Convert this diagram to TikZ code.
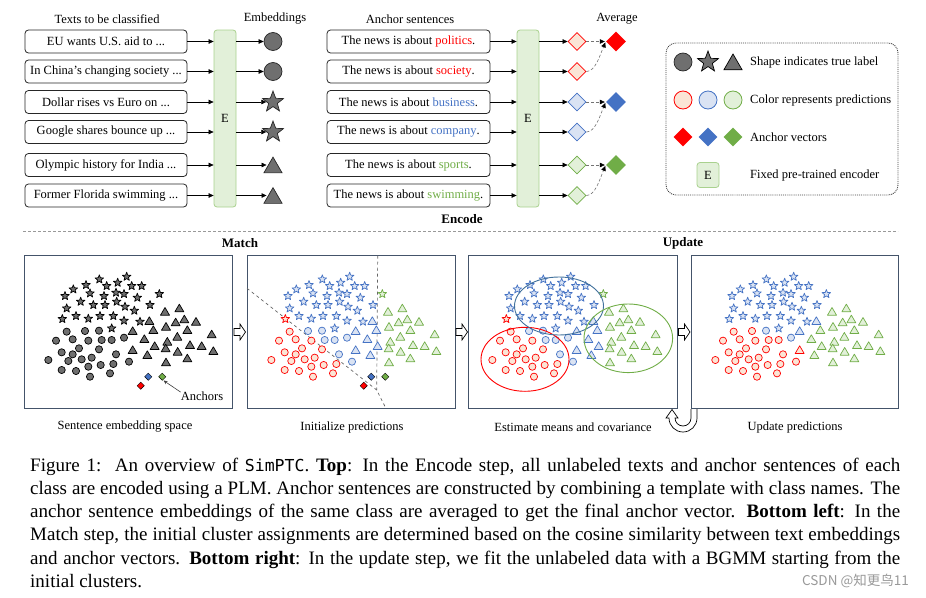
\documentclass[tikz,border=0pt]{standalone}
\usepackage{fontspec}
\setmainfont{Liberation Serif}
\newfontfamily\capmono{DejaVu Sans Mono}
\newfontfamily\cjkfont{Noto Sans CJK SC}
\usetikzlibrary{arrows.meta,shapes.geometric,calc}
\definecolor{cr}{HTML}{FF0000}
\definecolor{cb}{HTML}{4472C4}
\definecolor{cg}{HTML}{70AD47}
\definecolor{lr}{HTML}{FBE5D6}
\definecolor{lb}{HTML}{DAE3F3}
\definecolor{lg}{HTML}{E2F0D9}
\definecolor{ebord}{HTML}{A9D18E}
\definecolor{mgray}{HTML}{6F6F6F}
\definecolor{pframe}{HTML}{44546A}
\definecolor{eblue}{HTML}{41719C}
\newcommand\smallfs{\fontsize{12.5}{14}\selectfont}
\newcommand\capfs{\fontsize{19}{23}\selectfont}
\newcommand\mkStar[3]{\begin{scope}[shift={(#1,#2)}]\draw[#3] (-90:4.5)--(-54:1.9)--(-18:4.5)--(18:1.9)--(54:4.5)--(90:1.9)--(126:4.5)--(162:1.9)--(198:4.5)--(234:1.9)--cycle;\end{scope}}
\newcommand\mkTri[3]{\begin{scope}[shift={(#1,#2)}]\draw[#3] (0,-4.2)--(4.5,3.5)--(-4.5,3.5)--cycle;\end{scope}}
\newcommand\mkCirc[3]{\begin{scope}[shift={(#1,#2)}]\draw[#3] (0,0) circle (3.6);\end{scope}}
\newcommand\mkDia[3]{\begin{scope}[shift={(#1,#2)}]\draw[#3] (0,-3.6)--(3.6,0)--(0,3.6)--(-3.6,0)--cycle;\end{scope}}
\newcommand\blockarr[2]{\draw[line width=0.7pt, fill=white] (#1-5.5,#2-3.5) -- (#1+0.5,#2-3.5) -- (#1+0.5,#2-8) -- (#1+6,#2) -- (#1+0.5,#2+8) -- (#1+0.5,#2+3.5) -- (#1-5.5,#2+3.5) -- cycle;}
\begin{document}
\begin{tikzpicture}[x=1pt,y=-1pt,
  every node/.style={inner sep=0pt},
  title/.style={font=\smallfs},
  bold/.style={font=\fontsize{13}{14}\selectfont\bfseries},
  tbox/.style={draw=black!85, line width=0.8pt, rounded corners=3.5pt, minimum width=162pt, minimum height=23pt, font=\smallfs},
  encbox/.style={draw=ebord, fill=lg, rounded corners=3pt, line width=0.8pt, font=\smallfs},
  arr/.style={-{Triangle[length=5pt,width=4.5pt]}, line width=0.6pt},
  darr/.style={densely dashed, draw=black!55, line width=0.6pt, -{Triangle[length=5pt,width=4.5pt,color=black]}, shorten >=1pt},
  mcirc/.style={circle, draw=black!85, fill=mgray, minimum size=18pt, line width=0.7pt},
  mstar/.style={star, star points=5, star point ratio=2.4, draw=black!85, fill=mgray, minimum size=22pt, line width=0.7pt},
  mtri/.style={regular polygon, regular polygon sides=3, draw=black!85, fill=mgray, minimum size=21pt, line width=0.7pt},
  dia/.style={diamond, minimum width=18pt, minimum height=18pt, line width=0.8pt},
  avgdia/.style={diamond, minimum width=20pt, minimum height=20pt},
  legtxt/.style={font=\smallfs, anchor=west},
  capline/.style={anchor=base west, font=\capfs},
  panel/.style={draw=pframe, line width=0.9pt}
]
\useasboundingbox (0,0) rectangle (926,597);
% ---------- titles
\node[title] (tA) at (107,19) {Texts to be classified};
\node[title] (tB) at (275,19) {Embeddings};
\node[title] (tC) at (410,19) {Anchor sentences};
\node[title] (tD) at (617,19) {Average};
% ---------- left column
\node[tbox] (t1) at (106,41.5) {EU wants U.S. aid to ...};
\node[tbox] (t2) at (106,71.5) {In China's changing society ...};
\node[tbox] (t3) at (106,102) {Dollar rises vs Euro on ...};
\node[tbox] (t4) at (106,132) {Google shares bounce up ...};
\node[tbox] (t5) at (106,165) {Olympic history for India ...};
\node[tbox] (t6) at (106,195.5) {Former Florida swimming ...};
\node[encbox, minimum width=22pt, minimum height=177pt] (E1) at (225,118.5) {E};
\node[mcirc] (m1) at (273,41.5) {};
\node[mcirc] (m2) at (273,71.5) {};
\node[mstar] (m3) at (273,102) {};
\node[mstar] (m4) at (273,132) {};
\node[mtri] (m5) at (273,167.6) {};
\node[mtri] (m6) at (273,198.1) {};
\foreach \i in {1,...,6} {
  \draw[arr] (t\i.east) -- (t\i.east -| E1.west);
  \draw[arr] (E1.east |- t\i.east) -- (m\i.west |- t\i.east);
}
% ---------- anchor sentences
\node[tbox, minimum width=163pt] (s1) at (408.5,41.5) {The news is about \textcolor{cr}{politics}.};
\node[tbox, minimum width=163pt] (s2) at (408.5,71.5) {The news is about \textcolor{cr}{society}.};
\node[tbox, minimum width=163pt] (s3) at (408.5,102) {The news is about \textcolor{cb}{business}.};
\node[tbox, minimum width=163pt] (s4) at (408.5,132) {The news is about \textcolor{cb}{company}.};
\node[tbox, minimum width=163pt] (s5) at (408.5,165) {The news is about \textcolor{cg}{sports}.};
\node[tbox, minimum width=163pt] (s6) at (408.5,195.5) {The news is about \textcolor{cg}{swimming}.};
\node[encbox, minimum width=22pt, minimum height=177pt] (E2) at (528,118.5) {E};
\node[dia, draw=cr, fill=lr] (d1) at (577,41.5) {};
\node[dia, draw=cr, fill=lr] (d2) at (577,71.5) {};
\node[dia, draw=cb, fill=lb] (d3) at (577,102) {};
\node[dia, draw=cb, fill=lb] (d4) at (577,132) {};
\node[dia, draw=cg, fill=lg] (d5) at (577,165) {};
\node[dia, draw=cg, fill=lg] (d6) at (577,195.5) {};
\foreach \i in {1,...,6} {
  \draw[arr] (s\i.east) -- (s\i.east -| E2.west);
  \draw[arr] (E2.east |- s\i.east) -- (d\i.west);
}
\node[avgdia, fill=cr] (a1) at (616,41.5) {};
\node[avgdia, fill=cb] (a3) at (616,102) {};
\node[avgdia, fill=cg] (a5) at (616,165) {};
\draw[darr] (d1.east) -- (a1.west);
\draw[darr] (d2.east) .. controls ($(d2.east)+(9,0)$) and ($(a1.west)+(-6,14)$) .. (a1.west);
\draw[darr] (d3.east) -- (a3.west);
\draw[darr] (d4.east) .. controls ($(d4.east)+(9,0)$) and ($(a3.west)+(-6,14)$) .. (a3.west);
\draw[darr] (d5.east) -- (a5.west);
\draw[darr] (d6.east) .. controls ($(d6.east)+(9,0)$) and ($(a5.west)+(-6,14)$) .. (a5.west);
% ---------- legend
\draw[densely dotted, draw=black!75, line width=0.9pt, rounded corners=10pt] (666,43) rectangle (898,195);
\node[mcirc] (l1) at (683,62) {};
\node[mstar, draw=black, fill=mgray] (l2) at (708,62) {};
\node[mtri, draw=black] (l3) at (733,64.5) {};
\node[legtxt] (lt1) at (750,62) {Shape indicates true label};
\node[circle, minimum size=18pt, draw=cr, fill=lr, line width=0.8pt] (l4) at (683,100) {};
\node[circle, minimum size=18pt, draw=cb, fill=lb, line width=0.8pt] (l5) at (708,100) {};
\node[circle, minimum size=18pt, draw=cg, fill=lg, line width=0.8pt] (l6) at (733,100) {};
\node[legtxt] (lt2) at (750,100) {Color represents predictions};
\node[avgdia, minimum width=19pt, minimum height=19pt, fill=cr] (l7) at (683,137) {};
\node[avgdia, minimum width=19pt, minimum height=19pt, fill=cb] (l8) at (708,137) {};
\node[avgdia, minimum width=19pt, minimum height=19pt, fill=cg] (l9) at (733,137) {};
\node[legtxt] (lt3) at (750,137) {Anchor vectors};
\node[encbox, minimum width=22pt, minimum height=25pt] (lE) at (708,175) {E};
\node[legtxt] (lt4) at (750,175) {Fixed pre-trained encoder};
% ---------- section labels
\node[bold] (enc) at (462,219) {Encode};
\draw[densely dashed, draw=black!40, line width=0.7pt] (23,231) -- (898,231);
\node[bold] (mat) at (240,243) {Match};
\node[bold] (upd) at (683,243) {Update};
% ---------- panels
\draw[panel] (24,255.5) rectangle (232,408.5);
\draw[panel] (247,255.5) rectangle (455,408.5);
\draw[panel] (468,255.5) rectangle (677,408.5);
\draw[panel] (691,255.5) rectangle (898,408.5);
\node[title] (b1) at (125,427) {Sentence embedding space};
\node[title] (b2) at (352,427) {Initialize predictions};
\node[title] (b3) at (573,427) {Estimate means and covariance};
\node[title] (b4) at (795,427) {Update predictions};
% dashed boundaries in panel 2
\draw[dashed, draw=black!60, line width=0.7pt] (247,288.3) -- (376.7,390) -- (386,408.5);
\draw[dashed, draw=black!60, line width=0.7pt] (377.7,255.5) -- (376.7,390);
% ---------- scatter points
\foreach \pdx/\pmode in {0/1,223/2,444/2,667/4} {
  \foreach \zx/\zy/\pa/\pb in {298/178/b/b,380/170/b/b,353/188/b/b,320/198/b/b,395/198/b/b,425/198/b/b,258/195/b/b,220/208/b/b,195/228/b/b,270/220/b/b,312/228/b/b,348/218/b/b,372/222/b/b,412/233/b/b,478/222/g/b,242/245/b/b,280/255/b/b,315/255/b/b,350/245/b/b,375/260/b/b,450/255/b/b,200/265/b/b,403/272/b/b,228/288/b/b,265/296/b/b,300/288/b/b,340/288/b/b,187/297/r/b,372/302/b/b,420/305/b/b,335/325/b/b} {
    \ifnum\pmode=1 \def\dcol{black}\def\fcol{mgray}\fi
    \ifnum\pmode=2 \edef\dcol{c\pa}\edef\fcol{l\pa}\fi
    \ifnum\pmode=4 \edef\dcol{c\pb}\edef\fcol{l\pb}\fi
    \mkStar{\zx/3+\pdx}{220+\zy/3}{draw=\dcol,fill=\fcol,line width=0.7pt,line join=round}
  }
  \foreach \zx/\zy/\pa/\pb in {200/335/r/r,255/333/b/r,297/332/b/b,168/362/r/r,218/358/r/r,265/362/r/r,305/360/b/r,335/360/b/r,372/353/b/b,237/385/r/r,185/397/r/r,218/403/r/r,297/388/r/r,145/420/r/r,205/423/r/r,245/418/r/r,275/413/r/r,348/403/b/r,387/425/b/r,185/450/r/r,228/453/r/r,265/440/r/r,302/435/r/r,340/432/r/r,270/470/r/r,330/460/r/r} {
    \ifnum\pmode=1 \def\dcol{black}\def\fcol{mgray}\fi
    \ifnum\pmode=2 \edef\dcol{c\pa}\edef\fcol{l\pa}\fi
    \ifnum\pmode=4 \edef\dcol{c\pb}\edef\fcol{l\pb}\fi
    \mkCirc{\zx/3+\pdx}{220+\zy/3}{draw=\dcol,fill=\fcol,line width=0.7pt}
  }
  \foreach \zx/\zy/\pa/\pb in {495/275/g/g,538/265/g/g,553/298/g/g,588/305/g/g,527/307/g/g,448/303/b/b,460/330/b/g,498/320/g/g,398/333/b/b,562/330/g/g,635/343/g/g,433/357/b/g,532/350/g/g,502/365/g/g,464/378/b/g,570/375/g/g,605/378/g/g,640/393/g/g,398/390/b/r,497/385/g/g,533/395/g/g,442/405/b/g,562/415/g/g,498/427/g/g} {
    \ifnum\pmode=1 \def\dcol{black}\def\fcol{mgray}\fi
    \ifnum\pmode=2 \edef\dcol{c\pa}\edef\fcol{l\pa}\fi
    \ifnum\pmode=4 \edef\dcol{c\pb}\edef\fcol{l\pb}\fi
    \mkTri{\zx/3+\pdx}{220+\zy/3}{draw=\dcol,fill=\fcol,line width=0.7pt,line join=round}
  }
}
% anchors in panels 1 and 2
\foreach \pdx in {0,223} {
  \mkDia{148.3+\pdx}{376.7}{fill=cb}
  \mkDia{162.3+\pdx}{376.7}{fill=cg}
  \mkDia{140.7+\pdx}{385.7}{fill=cr}
}
\node[title] (anc) at (202,396.7) {Anchors};
\coordinate (ancTip) at (163.5,380.5);
\draw[draw=black!75, line width=0.6pt, -{Stealth[length=4pt,width=3.5pt]}] (anc.north west) -- (ancTip);
% ellipses in panel 3
\draw[draw=cr, line width=0.9pt] (525,359.3) ellipse [x radius=44, y radius=32];
\draw[draw=eblue, line width=0.9pt] (559,306) ellipse [x radius=44.5, y radius=29];
\draw[draw=cg, line width=0.9pt] (628.3,338.3) ellipse [x radius=44.3, y radius=34.3];
% block arrows
\blockarr{239.5}{332}
\blockarr{461.5}{332}
\blockarr{684}{332}
% U-turn arrow
\draw[line width=0.7pt, fill=white] (697,409) -- (697,418) arc[start angle=0,end angle=180,radius=14] -- (666,418) -- (672,409.5) -- (678,418) -- (675,418) arc[start angle=180,end angle=0,radius=8] -- (691,409);
% ---------- caption
\node[capline] (c1) at (30,471) {\makebox[870pt][s]{Figure 1:\ \ An overview of {\capmono\fontsize{16.5}{20}\selectfont SimPTC}. \textbf{Top}: In the Encode step, all unlabeled texts and anchor sentences of each}};
\node[capline] (c2) at (30,494.3) {\makebox[870pt][s]{class are encoded using a PLM. Anchor sentences are constructed by combining a template with class names. The}};
\node[capline] (c3) at (30,517.6) {\makebox[870pt][s]{anchor sentence embeddings of the same class are averaged to get the final anchor vector. \textbf{Bottom left}: In the}};
\node[capline] (c4) at (30,540.9) {\makebox[870pt][s]{Match step, the initial cluster assignments are determined based on the cosine similarity between text embeddings}};
\node[capline] (c5) at (30,564.2) {\makebox[870pt][s]{and anchor vectors. \textbf{Bottom right}: In the update step, we fit the unlabeled data with a BGMM starting from the}};
\node[capline] (c6) at (30,587.5) {initial clusters.};
\node[anchor=base east, text=black!40, font=\cjkfont\fontsize{13.5}{14}\selectfont] (wm) at (909,585) {CSDN @知更鸟11};
\end{tikzpicture}
\end{document}
